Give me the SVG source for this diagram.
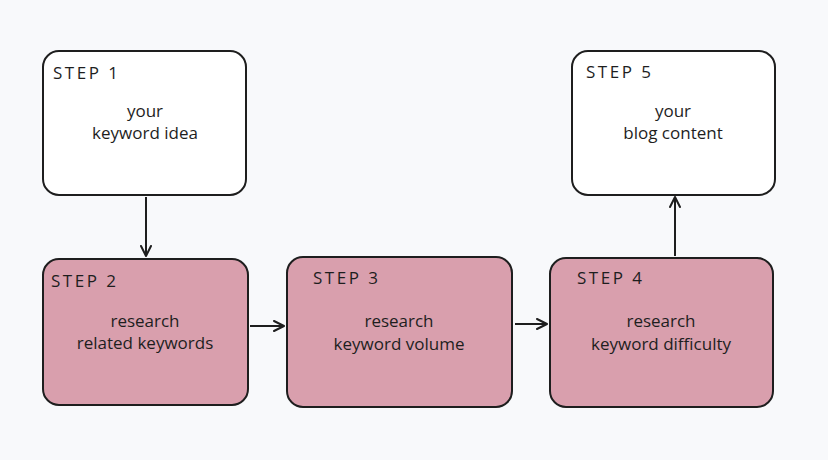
<svg xmlns="http://www.w3.org/2000/svg" width="828" height="460" viewBox="0 0 828 460">
<defs>
<style>
.box{stroke:#1e1e1e;stroke-width:2;}
.w{fill:#ffffff;}
.p{fill:#d99fad;}
.t{font-family:"Open Sans","Liberation Sans",sans-serif;font-size:17px;fill:#1e1e1e;}
.s{letter-spacing:2.5px;}
.c{text-anchor:middle;}
.conn{stroke:#1e1e1e;stroke-width:2;fill:none;marker-end:url(#ah);}
</style>
<marker id="ah" viewBox="0 0 12 12" refX="11" refY="6" markerWidth="12" markerHeight="12" markerUnits="userSpaceOnUse" orient="auto">
<path d="M1,1 L11,6 L1,11" fill="none" stroke="#1e1e1e" stroke-width="2" stroke-linejoin="round" stroke-linecap="round"/>
</marker>
</defs>
<rect width="828" height="460" fill="#f8f9fb"/>
<g id="connectors">
<path class="conn" d="M146,197 L146,256"/>
<path class="conn" d="M250,326 L284,326"/>
<path class="conn" d="M515,324 L547,324"/>
<path class="conn" d="M675,256 L675,197"/>
</g>
<g id="step1">
<rect class="box w" x="43" y="51" width="203" height="144" rx="16"/>
<text class="t s" x="53" y="79">STEP 1</text>
<text class="t c" x="145" y="117">your</text>
<text class="t c" x="145" y="139">keyword idea</text>
</g>
<g id="step2">
<rect class="box p" x="43" y="259" width="205" height="146" rx="16"/>
<text class="t s" x="51" y="287">STEP 2</text>
<text class="t c" x="145" y="327">research</text>
<text class="t c" x="145" y="349">related keywords</text>
</g>
<g id="step3">
<rect class="box p" x="287" y="257" width="225" height="150" rx="16"/>
<text class="t s" x="313" y="284">STEP 3</text>
<text class="t c" x="399" y="327">research</text>
<text class="t c" x="399" y="350">keyword volume</text>
</g>
<g id="step4">
<rect class="box p" x="550" y="258" width="223" height="149" rx="16"/>
<text class="t s" x="577" y="284">STEP 4</text>
<text class="t c" x="661" y="327">research</text>
<text class="t c" x="661" y="350">keyword difficulty</text>
</g>
<g id="step5">
<rect class="box w" x="572" y="51" width="203" height="144" rx="16"/>
<text class="t s" x="586" y="78">STEP 5</text>
<text class="t c" x="673" y="117">your</text>
<text class="t c" x="673" y="139">blog content</text>
</g>
</svg>
